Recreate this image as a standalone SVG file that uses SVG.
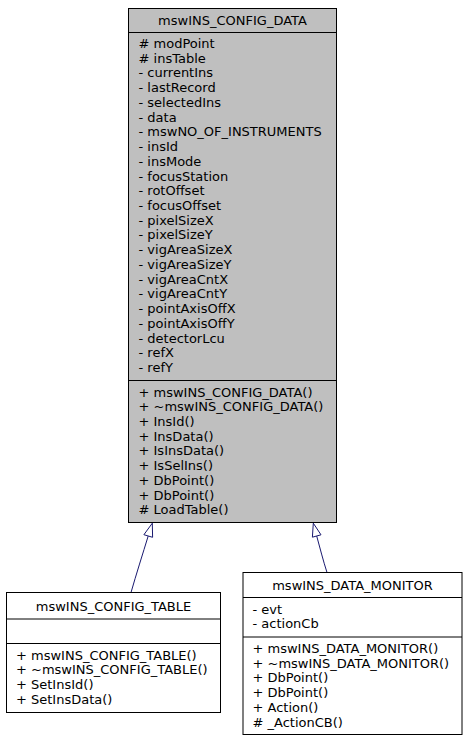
<svg xmlns="http://www.w3.org/2000/svg" width="467" height="741" viewBox="0 0 467 741">
<style>
text{font-family:"DejaVu Sans","Liberation Sans",sans-serif;font-size:13px;fill:#000}
.t{text-anchor:middle}
.box{stroke:#000;stroke-width:1}
.edge{fill:none;stroke:#191970;stroke-width:1}
.head{fill:#fff;stroke:#191970;stroke-width:1}
</style>
<rect width="467" height="741" fill="#fff"/>
<g id="edges">
<path class="edge" d="M131,592.5 C136,575 143,553 148.2,536"/>
<polygon class="head" points="152.3,523.2 143.9,534.7 152.6,537.3"/>
<path class="edge" d="M327,572.5 C323,560 320,548 316.7,536"/>
<polygon class="head" points="313.3,523.2 312.4,537.2 321,534.8"/>
</g>
<g id="mswINS_CONFIG_DATA">
<rect class="box" x="128.5" y="8.5" width="208" height="514" fill="#bfbfbf"/>
<line class="box" x1="128.5" y1="32.5" x2="336.5" y2="32.5"/>
<line class="box" x1="128.5" y1="380.5" x2="336.5" y2="380.5"/>
<text class="t" x="232.5" y="24.6">mswINS_CONFIG_DATA</text>
<text x="138.5" y="48">
<tspan x="138.5" dy="0"># modPoint</tspan>
<tspan x="138.5" dy="14.73"># insTable</tspan>
<tspan x="138.5" dy="14.73">- currentIns</tspan>
<tspan x="138.5" dy="14.73">- lastRecord</tspan>
<tspan x="138.5" dy="14.73">- selectedIns</tspan>
<tspan x="138.5" dy="14.73">- data</tspan>
<tspan x="138.5" dy="14.73">- mswNO_OF_INSTRUMENTS</tspan>
<tspan x="138.5" dy="14.73">- insId</tspan>
<tspan x="138.5" dy="14.73">- insMode</tspan>
<tspan x="138.5" dy="14.73">- focusStation</tspan>
<tspan x="138.5" dy="14.73">- rotOffset</tspan>
<tspan x="138.5" dy="14.73">- focusOffset</tspan>
<tspan x="138.5" dy="14.73">- pixelSizeX</tspan>
<tspan x="138.5" dy="14.73">- pixelSizeY</tspan>
<tspan x="138.5" dy="14.73">- vigAreaSizeX</tspan>
<tspan x="138.5" dy="14.73">- vigAreaSizeY</tspan>
<tspan x="138.5" dy="14.73">- vigAreaCntX</tspan>
<tspan x="138.5" dy="14.73">- vigAreaCntY</tspan>
<tspan x="138.5" dy="14.73">- pointAxisOffX</tspan>
<tspan x="138.5" dy="14.73">- pointAxisOffY</tspan>
<tspan x="138.5" dy="14.73">- detectorLcu</tspan>
<tspan x="138.5" dy="14.73">- refX</tspan>
<tspan x="138.5" dy="14.73">- refY</tspan>
</text>
<text x="138.5" y="396.5">
<tspan x="138.5" dy="0">+ mswINS_CONFIG_DATA()</tspan>
<tspan x="138.5" dy="14.73">+ ~mswINS_CONFIG_DATA()</tspan>
<tspan x="138.5" dy="14.73">+ InsId()</tspan>
<tspan x="138.5" dy="14.73">+ InsData()</tspan>
<tspan x="138.5" dy="14.73">+ IsInsData()</tspan>
<tspan x="138.5" dy="14.73">+ IsSelIns()</tspan>
<tspan x="138.5" dy="14.73">+ DbPoint()</tspan>
<tspan x="138.5" dy="14.73">+ DbPoint()</tspan>
<tspan x="138.5" dy="14.73"># LoadTable()</tspan>
</text>
</g>
<g id="mswINS_CONFIG_TABLE">
<rect class="box" x="6.5" y="592.5" width="214" height="120" fill="#fff"/>
<line class="box" x1="6.5" y1="619" x2="220.5" y2="619"/>
<line class="box" x1="6.5" y1="643.5" x2="220.5" y2="643.5"/>
<text class="t" x="113.5" y="610.6">mswINS_CONFIG_TABLE</text>
<text x="16" y="659.5">
<tspan x="16" dy="0">+ mswINS_CONFIG_TABLE()</tspan>
<tspan x="16" dy="14.73">+ ~mswINS_CONFIG_TABLE()</tspan>
<tspan x="16" dy="14.73">+ SetInsId()</tspan>
<tspan x="16" dy="14.73">+ SetInsData()</tspan>
</text>
</g>
<g id="mswINS_DATA_MONITOR">
<rect class="box" x="243" y="572.5" width="219" height="162" fill="#fff"/>
<line class="box" x1="243" y1="597.5" x2="462" y2="597.5"/>
<line class="box" x1="243" y1="637" x2="462" y2="637"/>
<text class="t" x="352.5" y="589.6">mswINS_DATA_MONITOR</text>
<text x="252.5" y="613.5">
<tspan x="252.5" dy="0">- evt</tspan>
<tspan x="252.5" dy="14.73">- actionCb</tspan>
</text>
<text x="252.5" y="653">
<tspan x="252.5" dy="0">+ mswINS_DATA_MONITOR()</tspan>
<tspan x="252.5" dy="14.73">+ ~mswINS_DATA_MONITOR()</tspan>
<tspan x="252.5" dy="14.73">+ DbPoint()</tspan>
<tspan x="252.5" dy="14.73">+ DbPoint()</tspan>
<tspan x="252.5" dy="14.73">+ Action()</tspan>
<tspan x="252.5" dy="14.73"># _ActionCB()</tspan>
</text>
</g>
</svg>
